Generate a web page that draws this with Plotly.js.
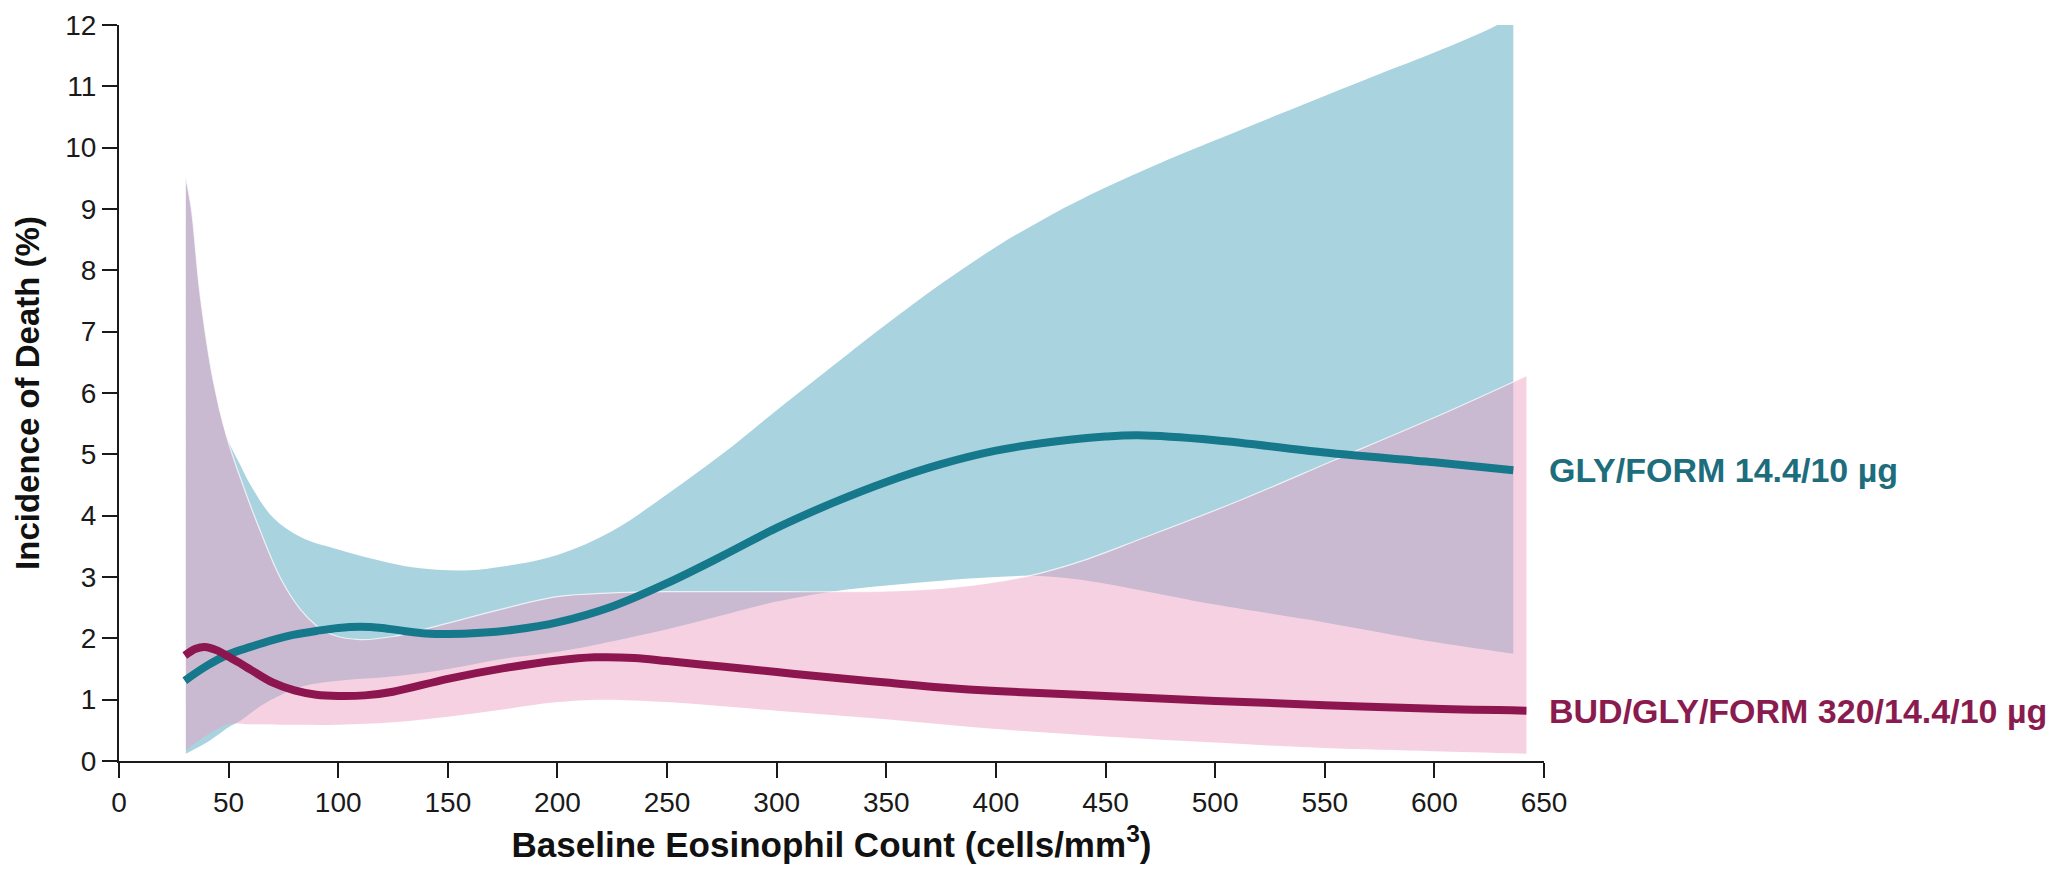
<!DOCTYPE html>
<html>
<head>
<meta charset="utf-8">
<script src="https://cdn.plot.ly/plotly-3.0.1.min.js"></script>
<style>
  html, body { margin: 0; padding: 0; background: #ffffff; }
  #chart { width: 2064px; height: 869px; }
</style>
</head>
<body>
<div id="chart"></div>
<script>
// ---- Data ----
const xTicks = [0, 50, 100, 150, 200, 250, 300, 350, 400, 450, 500, 550, 600, 650];
const yTicks = [0, 1, 2, 3, 4, 5, 6, 7, 8, 9, 10, 11, 12];

const seriesNames = ["GLY/FORM 14.4/10 µg", "BUD/GLY/FORM 320/14.4/10 µg"];

// GLY/FORM 14.4/10 µg estimate
const glyX = [30, 40, 50, 60, 70, 80, 90, 100, 110, 120, 130, 140, 150, 165, 180, 200, 225, 250, 275, 300, 325, 350, 375, 400, 425, 450, 465, 500, 550, 600, 636];
const glyY = [1.31, 1.55, 1.74, 1.86, 1.97, 2.06, 2.12, 2.17, 2.19, 2.17, 2.12, 2.08, 2.07, 2.09, 2.14, 2.26, 2.52, 2.9, 3.34, 3.8, 4.2, 4.55, 4.84, 5.06, 5.2, 5.29, 5.31, 5.23, 5.03, 4.87, 4.74];

// GLY/FORM confidence band
const glyUpX = [30.5, 33, 37, 43, 49, 55, 60, 70, 83, 100, 115, 130, 145, 160, 175, 200, 225, 250, 275, 300, 333, 350, 375, 400, 425, 450, 475, 500, 540, 575, 600, 626, 636];
const glyUpY = [9.5, 9.0, 7.6, 6.2, 5.3, 4.85, 4.5, 3.98, 3.65, 3.45, 3.3, 3.18, 3.12, 3.11, 3.17, 3.36, 3.75, 4.35, 5.0, 5.72, 6.65, 7.12, 7.78, 8.38, 8.9, 9.35, 9.75, 10.12, 10.7, 11.2, 11.55, 11.95, 12.15];
const glyLoX = [30.5, 40, 50, 55.5, 60, 67.6, 83, 98, 128, 150, 174, 200, 250, 300, 325, 350, 375, 400, 418, 435, 450, 475, 500, 550, 600, 636];
const glyLoY = [0.12, 0.3, 0.55, 0.66, 0.78, 0.96, 1.21, 1.3, 1.39, 1.5, 1.66, 1.78, 2.15, 2.6, 2.76, 2.86, 2.94, 3.0, 3.02, 2.97, 2.89, 2.72, 2.55, 2.26, 1.94, 1.75];

// BUD/GLY/FORM 320/14.4/10 µg estimate
const budX = [30, 35, 39, 45, 50, 55, 60, 70, 80, 90, 100, 112, 125, 150, 175, 200, 217, 235, 250, 275, 300, 325, 350, 375, 400, 450, 500, 550, 600, 642];
const budY = [1.72, 1.83, 1.86, 1.8, 1.7, 1.6, 1.49, 1.28, 1.15, 1.08, 1.06, 1.07, 1.13, 1.34, 1.51, 1.64, 1.69, 1.68, 1.63, 1.54, 1.45, 1.36, 1.28, 1.2, 1.14, 1.06, 0.98, 0.91, 0.85, 0.82];

// BUD/GLY/FORM confidence band
const budUpX = [30.5, 33, 37, 43, 49, 55, 65, 74, 83, 90, 98, 110, 125, 145, 175, 200, 225, 250, 300, 350, 380, 400, 420, 440, 466, 510, 554, 600, 642];
const budUpY = [9.5, 9.0, 7.6, 6.2, 5.3, 4.65, 3.7, 2.96, 2.46, 2.21, 2.05, 1.98, 2.03, 2.2, 2.48, 2.68, 2.74, 2.76, 2.76, 2.77, 2.83, 2.92, 3.06, 3.27, 3.62, 4.23, 4.9, 5.6, 6.28];
const budLoX = [30.5, 40, 50, 60, 80, 100, 125, 150, 175, 200, 220, 250, 300, 350, 400, 450, 500, 550, 600, 642];
const budLoY = [0.18, 0.42, 0.6, 0.6, 0.59, 0.59, 0.63, 0.72, 0.84, 0.96, 1.0, 0.96, 0.82, 0.68, 0.52, 0.40, 0.30, 0.21, 0.16, 0.12];

// ---- Styles ----
const tealLine = "#16788b";
const tealText = "#1d6d7d";
const tealFill = "#aad3e0";
const magLine = "#8e1650";
const magText = "#8a1b4f";
const pinkFill = "rgba(236,157,191,0.47)";
const fontFam = "Arial, 'Liberation Sans', Helvetica, sans-serif";

const traces = [
  { x: glyLoX, y: glyLoY, mode: "lines", line: { width: 0, shape: "spline", smoothing: 1 }, hoverinfo: "skip", showlegend: false },
  { x: glyUpX, y: glyUpY, mode: "lines", fill: "tonexty", fillcolor: tealFill, line: { width: 0, shape: "spline", smoothing: 1 }, hoverinfo: "skip", showlegend: false, name: seriesNames[0] + " CI" },
  { x: budLoX, y: budLoY, mode: "lines", line: { width: 0, shape: "spline", smoothing: 1 }, hoverinfo: "skip", showlegend: false },
  { x: budUpX, y: budUpY, mode: "lines", fill: "tonexty", fillcolor: pinkFill, line: { width: 1.2, color: "rgba(255,255,255,0.75)", shape: "spline", smoothing: 1 }, hoverinfo: "skip", showlegend: false, name: seriesNames[1] + " CI" },
  { x: glyX, y: glyY, mode: "lines", name: seriesNames[0], line: { color: tealLine, width: 8, shape: "spline", smoothing: 1 }, showlegend: false },
  { x: budX, y: budY, mode: "lines", name: seriesNames[1], line: { color: magLine, width: 8, shape: "spline", smoothing: 1 }, showlegend: false }
];

const axisCommon = {
  showline: true, linewidth: 2, linecolor: "#1a1a1a",
  ticks: "outside", ticklen: 15, tickwidth: 2, tickcolor: "#1a1a1a",
  showgrid: false, zeroline: false, fixedrange: true,
  tickfont: { family: fontFam, size: 28, color: "#1a1a1a" }
};

const layout = {
  width: 2064, height: 869,
  margin: { l: 119, r: 520, t: 25, b: 108 },
  paper_bgcolor: "#ffffff", plot_bgcolor: "#ffffff",
  font: { family: fontFam },
  showlegend: false,
  xaxis: Object.assign({}, axisCommon, {
    range: [0, 650], tickmode: "array", tickvals: xTicks, ticktext: xTicks.map(String),
    title: { text: "<b>Baseline Eosinophil Count (cells/mm<sup>3</sup>)</b>", font: { family: fontFam, size: 35, color: "#111" }, standoff: 16 },
    automargin: false
  }),
  yaxis: Object.assign({}, axisCommon, {
    range: [0, 12], tickmode: "array", tickvals: yTicks, ticktext: yTicks.map(String),
    title: { text: "<b>Incidence of Death (%)</b>", font: { family: fontFam, size: 33, color: "#111" }, standoff: 16 },
    automargin: false
  }),
  annotations: [
    { x: 650, y: glyY[glyY.length - 1], xref: "x", yref: "y", xanchor: "left", yanchor: "middle", xshift: 3, yshift: 0,
      text: "<b>" + seriesNames[0] + "</b>", showarrow: false, font: { family: fontFam, size: 34, color: tealText } },
    { x: 650, y: budY[budY.length - 1], xref: "x", yref: "y", xanchor: "left", yanchor: "middle", xshift: 3, yshift: 0,
      text: "<b>" + seriesNames[1] + "</b>", showarrow: false, font: { family: fontFam, size: 34, color: magText } }
  ]
};

Plotly.newPlot("chart", traces, layout, { displayModeBar: false, staticPlot: true });
</script>
</body>
</html>
